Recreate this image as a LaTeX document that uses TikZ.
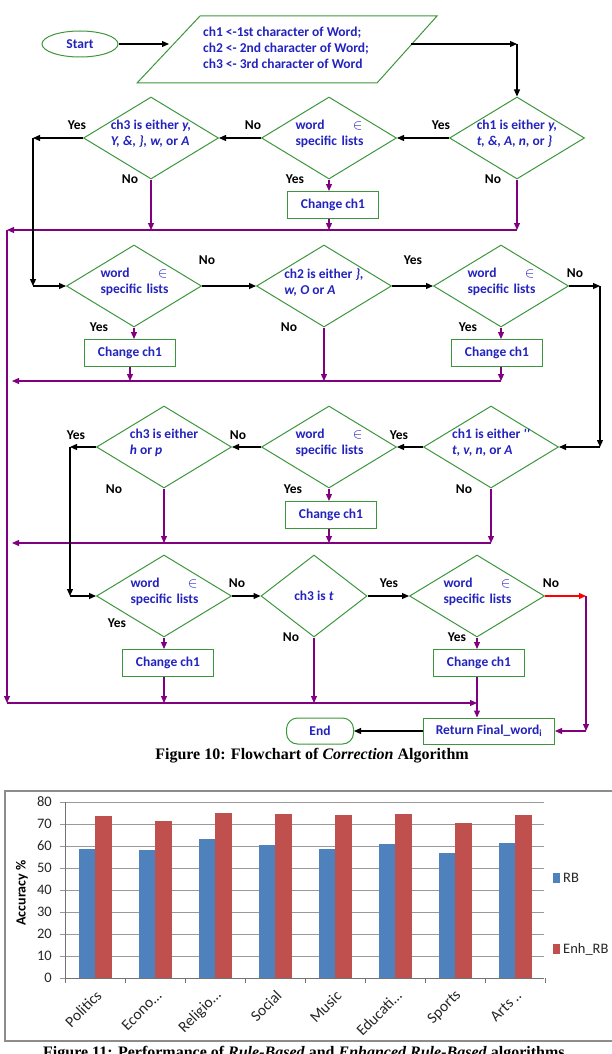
\documentclass[tikz,border=0pt]{standalone}
\usepackage{fontspec}
\setmainfont{Liberation Serif}
\newfontfamily\carl{Carlito}
\usepackage{tikz}
\usetikzlibrary{shapes.geometric, arrows.meta}

\definecolor{fcblue}{RGB}{35,35,190}
\definecolor{fcgreen}{RGB}{60,150,60}
\definecolor{fcpurple}{RGB}{128,0,128}
\definecolor{rbblue}{RGB}{79,129,189}
\definecolor{enred}{RGB}{192,80,77}
\newcommand{\fcfont}{\carl\bfseries\fontsize{13.5}{16}\selectfont}
\newcommand{\chfont}{\carl\fontsize{14.5}{16}\selectfont}

\begin{document}
\begin{tikzpicture}[
    x=1pt, y=-1pt,
    dia/.style={diamond, draw=fcgreen, line width=1pt, minimum width=135pt, minimum height=82pt, inner sep=0pt},
    dtxt/.style={font=\fcfont, text=fcblue, align=left, inner sep=0pt},
    wtxt/.style={dtxt, text width=67pt},
    chbox/.style={draw=fcgreen, line width=1pt, minimum width=91pt, minimum height=27pt, font=\fcfont, text=fcblue},
    yn/.style={font=\fcfont, inner sep=0pt},
    blk/.style={line width=1.2pt, -{Triangle[length=7pt,width=6pt]}},
    pur/.style={blk, draw=fcpurple},
    caption/.style={font=\bfseries\fontsize{16}{18}\selectfont, inner sep=0pt},
    ticklbl/.style={font=\chfont, text=black!85, inner sep=0pt},
    catlbl/.style={font=\carl\fontsize{15.5}{17}\selectfont, text=black!85, rotate=45, anchor=east, inner sep=0pt},
    grid line/.style={draw=black!40, line width=0.8pt}
]
    \useasboundingbox (0,0) rectangle (611,1054);

    % Input
    \node[ellipse, draw=fcgreen, line width=1pt, minimum width=76pt, minimum height=26pt, inner sep=0pt, font=\fcfont, text=fcblue] (start) at (80,44) {Start};
    \draw[fcgreen, line width=1pt] (137,83) -- (200,16) -- (437,16) -- (377,83) -- cycle;
    \node[dtxt, anchor=west] (par) at (203,48) {ch1 <-1st character of Word;\\ch2 <- 2nd character of Word;\\ch3 <- 3rd character of Word};
    \coordinate (pin) at (169,44);
    \coordinate (pout) at (411,44);
    \draw[blk] (start.east) -- (pin);

    % Row 1
    \node[dia] (d1) at (517,138) {};
    \node[dia] (d2) at (329,138) {};
    \node[dia] (d3) at (151,138) {};
    \node[dtxt] (t1) at ([yshift=4pt]d1) {ch1 is either \textit{y,}\\\textit{t, \&, A, n,} or \textit{\}}};
    \node[wtxt] (t2) at ([yshift=4pt]d2) {word\hfill$\in$\\specific~lists};
    \node[dtxt] (t3) at ([yshift=4pt]d3) {ch3 is either \textit{y,}\\\textit{Y, \&, \}, w,} or \textit{A}};
    \node[chbox] (c1) at (333,205) {Change ch1};
    \coordinate (k0) at (517,44);
    \coordinate (k1) at (33,138);
    \coordinate (m1) at (7,230);
    \draw[blk] (pout) -- (k0);
    \draw[blk] (k0) -- (d1.north);
    \draw[blk] (d1.west) -- (d2.east);
    \draw[blk] (d2.west) -- (d3.east);
    \draw[blk] (d3.west) -- (k1);
    \draw[pur] (d3.south) -- (d3.south |- m1);
    \draw[pur] (d2.south) -- (d2.south |- c1.north);
    \draw[pur] (c1.south -| d2.south) -- (d2.south |- m1);
    \draw[pur] (d1.south) -- (d1.south |- m1);
    \draw[pur] (d1.south |- m1) -- (m1);
    \node[yn] (y1) at (441,125) {Yes};
    \node[yn] (n1) at (253,125) {No};
    \node[yn] (y2) at (77,125) {Yes};
    \node[yn] (n2) at (130,179) {No};
    \node[yn] (y3) at (295,179) {Yes};
    \node[yn] (n3) at (493,179) {No};

    % Row 2
    \node[dia] (d4) at (134,286) {};
    \node[dia] (d5) at (324,286) {};
    \node[dia] (d6) at (501,286) {};
    \node[wtxt] (t4) at ([yshift=4pt]d4) {word\hfill$\in$\\specific~lists};
    \node[dtxt] (t5) at ([yshift=4pt]d5) {ch2 is either \textit{\},}\\\textit{w, O} or \textit{A}};
    \node[wtxt] (t6) at ([yshift=4pt]d6) {word\hfill$\in$\\specific~lists};
    \node[chbox] (c2) at (130,353) {Change ch1};
    \node[chbox] (c3) at (497,353) {Change ch1};
    \coordinate (k1b) at (33,286);
    \coordinate (k2) at (600,286);
    \coordinate (m2) at (12,381);
    \draw[blk] (k1) -- (k1b);
    \draw[blk] (k1b) -- (d4.west);
    \draw[blk] (d4.east) -- (d5.west);
    \draw[blk] (d5.east) -- (d6.west);
    \draw[blk] (d6.east) -- (k2);
    \draw[pur] (d4.south) -- (d4.south |- c2.north);
    \draw[pur] (c2.south) -- (c2.south |- m2);
    \draw[pur] (d5.south) -- (d5.south |- m2);
    \draw[pur] (d6.south) -- (d6.south |- c3.north);
    \draw[pur] (c3.south -| d6.south) -- (d6.south |- m2);
    \draw[pur] (d6.south |- m2) -- (m2);
    \node[yn] (n4) at (207,260) {No};
    \node[yn] (y4) at (413,260) {Yes};
    \node[yn] (n5) at (575,273) {No};
    \node[yn] (y5) at (99,327) {Yes};
    \node[yn] (n6) at (289,327) {No};
    \node[yn] (y6) at (468,327) {Yes};

    % Row 3
    \node[dia] (d7) at (491,447) {};
    \node[dia] (d8) at (329,447) {};
    \node[dia] (d9) at (164,447) {};
    \node[dtxt] (t7) at ([yshift=4pt]d7) {ch1 is either \textit{''}\\\textit{t, v, n,} or \textit{A}};
    \node[wtxt] (t8) at ([yshift=4pt]d8) {word\hfill$\in$\\specific~lists};
    \node[dtxt] (t9) at ([yshift=4pt]d9) {ch3 is either\\\textit{h} or \textit{p}};
    \node[chbox] (c4) at (331,515) {Change ch1};
    \coordinate (k3) at (600,447);
    \coordinate (k4) at (70,447);
    \coordinate (m3) at (12,543);
    \draw[blk] (k2) -- (k3);
    \draw[blk] (k3) -- (d7.east);
    \draw[blk] (d7.west) -- (d8.east);
    \draw[blk] (d8.west) -- (d9.east);
    \draw[blk] (d9.west) -- (k4);
    \draw[pur] (d9.south) -- (d9.south |- m3);
    \draw[pur] (d8.south) -- (d8.south |- c4.north);
    \draw[pur] (c4.south -| d8.south) -- (d8.south |- m3);
    \draw[pur] (d7.south) -- (d7.south |- m3);
    \draw[pur] (d7.south |- m3) -- (m3);
    \node[yn] (y7) at (399,435) {Yes};
    \node[yn] (n7) at (238,435) {No};
    \node[yn] (y8) at (76,435) {Yes};
    \node[yn] (n8) at (114,489) {No};
    \node[yn] (y9) at (293,489) {Yes};
    \node[yn] (n9) at (464,489) {No};

    % Row 4
    \node[dia] (d10) at (164,596) {};
    \node[dia, minimum width=106pt] (d11) at (314,596) {};
    \node[dia] (d12) at (477,596) {};
    \node[wtxt] (t10) at ([yshift=4pt]d10) {word\hfill$\in$\\specific~lists};
    \node[dtxt] (t11) at (d11) {ch3 is \textit{t}};
    \node[wtxt] (t12) at ([yshift=4pt]d12) {word\hfill$\in$\\specific~lists};
    \node[chbox] (c5) at (168,663) {Change ch1};
    \node[chbox] (c6) at (479,663) {Change ch1};
    \node[chbox, minimum width=131pt, minimum height=26pt] (ret) at (489,731) {Return Final\_word\textsubscript{i}};
    \node[chbox, minimum width=67pt, minimum height=26pt, rounded corners=11pt] (finish) at (320,731) {End};
    \coordinate (k5) at (70,596);
    \coordinate (k6) at (586,596);
    \coordinate (k7) at (586,731);
    \coordinate (m4) at (7,703);
    \draw[blk] (k4) -- (k5);
    \draw[blk] (k5) -- (d10.west);
    \draw[blk] (d10.east) -- (d11.west);
    \draw[blk] (d11.east) -- (d12.west);
    \draw[blk, draw=red] (d12.east) -- (k6);
    \draw[pur] (k6) -- (k7);
    \draw[pur] (k7) -- (ret.east);
    \draw[pur] (d10.south) -- (d10.south |- c5.north);
    \draw[pur] (c5.south -| d10.south) -- (d10.south |- m4);
    \draw[pur] (d11.south) -- (d11.south |- m4);
    \draw[pur] (d12.south) -- (d12.south |- c6.north);
    \draw[pur] (c6.south -| d12.south) -- (d12.south |- ret.north);
    \draw[pur] (m1) -- (m4);
    \draw[pur] (m4) -- (d12.south |- m4);
    \draw[blk] (ret.west) -- (finish.east);
    \node[yn] (n10) at (237,583) {No};
    \node[yn] (y10) at (389,583) {Yes};
    \node[yn] (n11) at (551,583) {No};
    \node[yn] (y11) at (117,623) {Yes};
    \node[yn] (n12) at (291,637) {No};
    \node[yn] (y12) at (457,637) {Yes};

    \node[caption, anchor=base] (cap10) at (312,759) {Figure 10: Flowchart of \textit{Correction} Algorithm};

    % Chart
    \draw[black!45, line width=1.3pt] (5,791) rectangle (618,1041);
    \foreach \v in {0,10,...,80}{
        \draw[grid line] (60,{978-2.2*\v}) -- (544,{978-2.2*\v});
        \node[ticklbl, anchor=east] (yl\v) at (52,{978-2.2*\v}) {\v};
    }
    \foreach \cat/\rb/\en [count=\i from 0] in {Politics/58.7/73.6, Econo\ldots/58.0/71.4, Religio\ldots/63.1/74.9, Social/60.5/74.5, Music/58.7/73.9, Educati\ldots/60.8/74.5, Sports/57.0/70.5, Arts\ .\kern0pt./61.4/74.2}{
        \fill[rbblue] ({79+60*\i},978) rectangle ({95+60*\i},{978-2.2*\rb});
        \fill[enred] ({95+60*\i},978) rectangle ({112+60*\i},{978-2.2*\en});
        \node[catlbl] (cat\i) at ({99+60*\i},993) {\cat};
    }
    \draw[black!55, line width=0.8pt] (65,802) -- (65,978) -- (544,978);
    \foreach \i in {0,...,8}
        \draw[black!55, line width=0.8pt] ({65+60*\i},978) -- ({65+60*\i},983);
    \node[font=\carl\bfseries\fontsize{14}{16}\selectfont, rotate=90, inner sep=0pt] (ylab) at (22,893) {Accuracy \%};
    \fill[rbblue] (553,873) rectangle (560,883);
    \node[ticklbl, anchor=west] (lgrb) at (563,878) {RB};
    \fill[enred] (553,944) rectangle (560,954);
    \node[ticklbl, anchor=west] (lgen) at (563,949) {Enh\_RB};

    \node[caption, anchor=base west] (cap11) at (43,1057) {Figure 11: Performance of \textit{Rule-Based} and \textit{Enhanced Rule-Based} algorithms};
\end{tikzpicture}
\end{document}
